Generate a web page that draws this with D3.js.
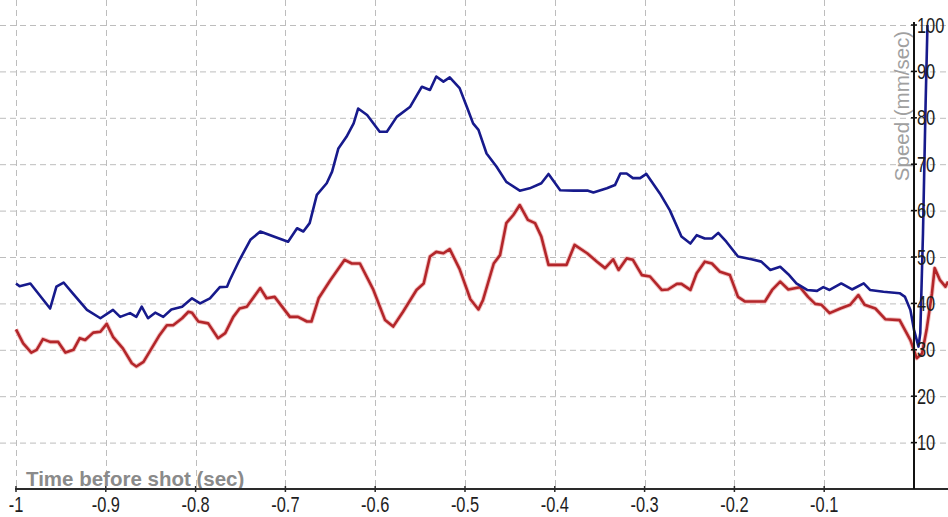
<!DOCTYPE html>
<html>
<head>
<meta charset="utf-8">
<script src="https://cdn.jsdelivr.net/npm/d3@7"></script>
<style>
  html, body { margin: 0; padding: 0; background: #fff; }
  svg { display: block; }
</style>
</head>
<body>
<svg id="chart" width="948" height="517"></svg>
<script>
// Time before the shot (s) and hand speed (mm/sec) for the two traces
const blueTimes = [-1.000,-0.996,-0.984,-0.962,-0.955,-0.947,-0.937,-0.921,-0.906,-0.892,-0.884,-0.873,-0.866,-0.860,-0.853,-0.845,-0.836,-0.827,-0.815,-0.804,-0.795,-0.784,-0.773,-0.765,-0.762,-0.751,-0.739,-0.728,-0.713,-0.697,-0.687,-0.680,-0.673,-0.665,-0.654,-0.648,-0.641,-0.632,-0.624,-0.619,-0.609,-0.595,-0.587,-0.576,-0.561,-0.548,-0.539,-0.532,-0.524,-0.517,-0.506,-0.498,-0.491,-0.485,-0.476,-0.465,-0.454,-0.439,-0.428,-0.415,-0.407,-0.394,-0.379,-0.363,-0.357,-0.342,-0.333,-0.327,-0.320,-0.313,-0.305,-0.298,-0.283,-0.272,-0.259,-0.249,-0.242,-0.233,-0.225,-0.218,-0.209,-0.196,-0.181,-0.170,-0.160,-0.149,-0.140,-0.131,-0.119,-0.108,-0.101,-0.094,-0.081,-0.069,-0.056,-0.049,-0.034,-0.016,-0.010,-0.004,0.000,0.005,0.007,0.010,0.013,0.015];
const blueSpeeds = [44.3,43.7,44.3,38.9,43.6,44.5,42.2,38.6,36.8,38.6,37.1,37.9,37.1,39.3,36.8,38.0,37.1,38.7,39.3,41.1,40.0,41.1,43.5,43.6,45.0,49.4,53.7,55.5,54.4,53.3,56.2,55.5,57.3,63.4,65.9,68.4,73.4,75.9,78.8,82.0,80.6,77.0,77.0,80.2,82.4,86.7,86.0,88.9,87.8,88.7,86.4,82.4,78.8,77.4,72.3,69.5,66.2,64.3,64.8,65.9,67.9,64.4,64.3,64.3,63.9,64.8,65.5,68.0,68.0,67.0,67.0,67.9,63.7,60.1,54.4,52.9,54.7,54.0,54.0,55.2,53.3,50.1,49.5,49.0,47.2,47.9,46.3,44.3,42.9,42.7,43.5,42.9,44.3,43.0,44.3,42.9,42.5,42.2,41.4,38.6,34.3,30.7,33.6,55.1,83.8,100.0];

const redTimes = [-1.000,-0.992,-0.983,-0.977,-0.970,-0.962,-0.953,-0.945,-0.936,-0.929,-0.923,-0.914,-0.906,-0.899,-0.892,-0.881,-0.871,-0.866,-0.858,-0.849,-0.840,-0.832,-0.825,-0.815,-0.808,-0.804,-0.797,-0.786,-0.775,-0.767,-0.758,-0.751,-0.743,-0.728,-0.721,-0.712,-0.695,-0.686,-0.676,-0.671,-0.663,-0.650,-0.634,-0.626,-0.617,-0.602,-0.589,-0.580,-0.569,-0.554,-0.546,-0.539,-0.532,-0.524,-0.517,-0.506,-0.494,-0.485,-0.480,-0.468,-0.461,-0.454,-0.446,-0.439,-0.430,-0.422,-0.415,-0.407,-0.398,-0.387,-0.378,-0.364,-0.353,-0.344,-0.335,-0.329,-0.320,-0.313,-0.303,-0.294,-0.281,-0.274,-0.264,-0.259,-0.249,-0.242,-0.233,-0.225,-0.216,-0.205,-0.196,-0.188,-0.175,-0.166,-0.158,-0.149,-0.140,-0.127,-0.118,-0.110,-0.103,-0.094,-0.082,-0.071,-0.062,-0.055,-0.043,-0.032,-0.016,-0.004,0.003,0.009,0.014,0.020,0.023,0.029,0.035,0.038];
const redSpeeds = [34.4,31.4,29.4,30.0,32.3,31.7,31.7,29.4,30.0,32.5,32.1,33.7,33.9,35.6,32.8,30.3,27.1,26.4,27.4,30.3,33.2,35.3,35.3,36.8,38.2,38.0,36.1,35.7,32.5,33.6,37.1,38.9,39.3,43.3,41.1,41.4,37.1,37.1,36.1,36.1,41.1,45.0,49.4,48.6,48.6,42.9,36.4,35.0,38.2,42.9,44.3,50.1,51.1,50.8,51.7,47.4,40.9,38.7,40.7,48.6,50.4,57.3,59.1,61.2,58.0,57.3,54.4,48.3,48.3,48.3,52.6,50.8,49.0,47.6,49.5,47.2,49.7,49.4,46.1,45.8,42.9,43.0,44.2,44.2,42.9,46.5,49.0,48.6,46.8,46.1,41.4,40.4,40.4,40.4,42.9,44.7,43.0,43.5,41.4,39.9,39.7,37.9,38.9,39.7,41.8,39.7,38.9,36.6,36.4,32.1,28.2,29.2,34.3,42.2,47.6,45.0,43.6,44.7];

const xTicks = [-1, -0.9, -0.8, -0.7, -0.6, -0.5, -0.4, -0.3, -0.2, -0.1];
const xTickLabels = ["-1", "-0.9", "-0.8", "-0.7", "-0.6", "-0.5", "-0.4", "-0.3", "-0.2", "-0.1"];
const yTicks = [10, 20, 30, 40, 50, 60, 70, 80, 90, 100];
const yTickLabels = ["10", "20", "30", "40", "50", "60", "70", "80", "90", "100"];

const W = 948, H = 517;
const svg = d3.select("#chart");

const x = d3.scaleLinear().domain([-1, 0]).range([16, 914]);
const y = d3.scaleLinear().domain([0, 100]).range([489, 25]);

const gridColor = "#bdbdbd";
const dash = "6,4";

// dashed grid
const grid = svg.append("g");
grid.selectAll("line.h").data(yTicks).join("line")
  .attr("x1", 0).attr("x2", W)
  .attr("y1", d => y(d) + 0.5).attr("y2", d => y(d) + 0.5)
  .attr("stroke", gridColor).attr("stroke-width", 1).attr("stroke-dasharray", dash);
grid.selectAll("line.v").data(xTicks).join("line")
  .attr("x1", d => Math.round(x(d)) + 0.5).attr("x2", d => Math.round(x(d)) + 0.5)
  .attr("y1", 0).attr("y2", y(0))
  .attr("stroke", gridColor).attr("stroke-width", 1).attr("stroke-dasharray", dash);

// axis titles
svg.append("text")
  .attr("x", 26).attr("y", 486)
  .attr("font-family", "Liberation Sans, Arial, sans-serif")
  .attr("font-size", 20.5).attr("font-weight", "bold")
  .attr("fill", "#8a8a8a")
  .text("Time before shot (sec)");

svg.append("text")
  .attr("transform", "translate(909,106) rotate(-90)")
  .attr("text-anchor", "middle")
  .attr("font-family", "Liberation Sans, Arial, sans-serif")
  .attr("font-size", 20.5)
  .attr("fill", "#a0a0a0")
  .text("Speed (mm/sec)");

// traces
const line = d3.line().x(d => x(d[0])).y(d => y(d[1])).curve(d3.curveLinear);
const redPts = redTimes.map((t, i) => [t, redSpeeds[i]]);
const bluePts = blueTimes.map((t, i) => [t, blueSpeeds[i]]);

svg.append("path").datum(redPts)
  .attr("d", line).attr("fill", "none")
  .attr("stroke", "#f3c4c4").attr("stroke-width", 4.5).attr("stroke-linejoin", "round");
svg.append("path").datum(redPts)
  .attr("d", line).attr("fill", "none")
  .attr("stroke", "#b3262a").attr("stroke-width", 2.6).attr("stroke-linejoin", "round");
svg.append("path").datum(bluePts)
  .attr("d", line).attr("fill", "none")
  .attr("stroke", "#171a8c").attr("stroke-width", 2.6).attr("stroke-linejoin", "round");

// x axis
const axisColor = "#2a2a2a";
svg.append("line")
  .attr("x1", 15).attr("x2", W).attr("y1", y(0)).attr("y2", y(0))
  .attr("stroke", axisColor).attr("stroke-width", 2);
svg.selectAll("line.xt").data(xTicks).join("line")
  .attr("x1", d => x(d)).attr("x2", d => x(d))
  .attr("y1", y(0) - 3).attr("y2", y(0) + 3)
  .attr("stroke", axisColor).attr("stroke-width", 1.5);

const tickFont = "Liberation Sans, Arial, sans-serif";
svg.selectAll("text.xl").data(xTicks).join("text")
  .attr("transform", d => `translate(${x(d)},512) scale(0.82,1.1)`)
  .attr("text-anchor", "middle")
  .attr("font-family", tickFont).attr("font-size", 20)
  .attr("fill", "#1e1e1e")
  .text((d, i) => xTickLabels[i]);

// y axis on the shot instant
svg.append("line")
  .attr("x1", x(0)).attr("x2", x(0)).attr("y1", y(100) - 3).attr("y2", y(0))
  .attr("stroke", "#111").attr("stroke-width", 2);
svg.selectAll("line.yt").data(yTicks).join("line")
  .attr("x1", x(0) - 3).attr("x2", x(0) + 3)
  .attr("y1", d => y(d)).attr("y2", d => y(d))
  .attr("stroke", "#111").attr("stroke-width", 1.5);
svg.selectAll("text.yl").data(yTicks).join("text")
  .attr("transform", d => `translate(${x(0) + 3},${y(d) + 7.5}) scale(0.82,1.1)`)
  .attr("font-family", tickFont).attr("font-size", 20)
  .attr("fill", "#1e1e1e")
  .text((d, i) => yTickLabels[i]);
</script>
</body>
</html>
